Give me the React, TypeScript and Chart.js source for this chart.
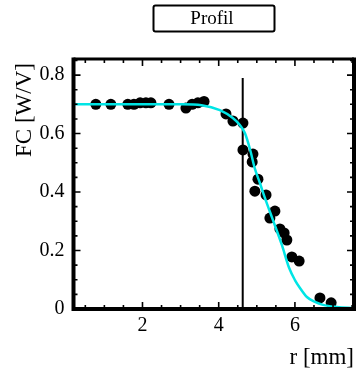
import { useEffect, useRef } from "react";
import { Chart, registerables } from "chart.js";

Chart.register(...registerables);

// Measured points (r in mm, FC in W/V)
const pointR = [0.776, 1.17, 1.615, 1.776, 1.938, 2.09, 2.221, 2.696, 3.14, 3.302, 3.454, 3.615, 4.191, 4.373, 4.636, 4.636, 4.899, 4.879, 5.03, 4.949, 5.242, 5.475, 5.343, 5.606, 5.717, 5.788, 5.919, 6.111, 6.657, 6.95];
const pointV = [0.7, 0.7, 0.7, 0.7, 0.705, 0.705, 0.705, 0.7, 0.687, 0.7, 0.705, 0.71, 0.667, 0.643, 0.636, 0.544, 0.53, 0.503, 0.444, 0.403, 0.39, 0.335, 0.311, 0.274, 0.26, 0.236, 0.178, 0.164, 0.038, 0.021];

// Fitted profile (cyan)
const curveR = [0.19, 1.03, 2.04, 3.05, 3.55, 4.03, 4.37, 4.555, 4.687, 4.818, 4.949, 5.081, 5.212, 5.424, 5.657, 5.849, 6.0, 6.132, 6.314, 6.526, 6.738, 7.102, 7.55];
const curveV = [0.7, 0.7, 0.7, 0.7, 0.697, 0.68, 0.653, 0.629, 0.602, 0.548, 0.48, 0.431, 0.38, 0.304, 0.219, 0.14, 0.099, 0.072, 0.041, 0.024, 0.014, 0.007, 0.003];

// Vertical marker line
const markerR = [4.63, 4.63];
const markerV = [0, 0.79];

const xTickValues = [2, 4, 6];
const yTickValues = [0, 0.2, 0.4, 0.6, 0.8];

const X_MIN = 0.19;
const X_MAX = 7.55;
const Y_MIN = 0;
const Y_MAX = 0.855;

const TITLE = "Profil";
const X_TITLE = "r [mm]";
const Y_TITLE = "FC [W/V]";

const FONT = '"Liberation Serif", "Times New Roman", serif';

const decorPlugin = {
  id: "decor",
  afterDraw(chart: any) {
    const { ctx, chartArea: a } = chart;
    const x = chart.scales.x;
    const y = chart.scales.y;
    ctx.save();
    ctx.strokeStyle = "#000";
    ctx.lineCap = "butt";

    // inward ticks on all four sides
    ctx.lineWidth = 1.6;
    for (let i = 0; i * 0.5 <= X_MAX + 1e-9; i++) {
      const v = i * 0.5;
      if (v < X_MIN) continue;
      const px = x.getPixelForValue(v);
      const major = xTickValues.some((t) => Math.abs(t - v) < 1e-9);
      const len = major ? 7 : 4;
      ctx.beginPath();
      ctx.moveTo(px, a.bottom);
      ctx.lineTo(px, a.bottom - len);
      ctx.moveTo(px, a.top);
      ctx.lineTo(px, a.top + len);
      ctx.stroke();
    }
    for (let i = 0; i * 0.05 <= Y_MAX + 1e-9; i++) {
      const v = i * 0.05;
      const py = y.getPixelForValue(v);
      const major = yTickValues.some((t) => Math.abs(t - v) < 1e-9);
      const len = major ? 7 : 4;
      ctx.beginPath();
      ctx.moveTo(a.left, py);
      ctx.lineTo(a.left + len, py);
      ctx.moveTo(a.right, py);
      ctx.lineTo(a.right - len, py);
      ctx.stroke();
    }

    // frame
    ctx.lineWidth = 4;
    ctx.beginPath();
    ctx.moveTo(a.left, a.top - 1.5);
    ctx.lineTo(a.left, a.bottom);
    ctx.lineTo(a.right, a.bottom);
    ctx.lineTo(a.right, a.top - 1.5);
    ctx.stroke();
    ctx.lineWidth = 3;
    ctx.beginPath();
    ctx.moveTo(a.left, a.top);
    ctx.lineTo(a.right, a.top);
    ctx.stroke();

    // title box
    ctx.lineWidth = 2;
    ctx.beginPath();
    ctx.roundRect(153.5, 5.5, 121, 26, 2);
    ctx.stroke();
    ctx.fillStyle = "#000";
    ctx.font = `19px ${FONT}`;
    ctx.textAlign = "center";
    ctx.textBaseline = "middle";
    ctx.fillText(TITLE, 212, 19);

    // axis titles
    ctx.font = `23px ${FONT}`;
    ctx.textAlign = "right";
    ctx.fillText(X_TITLE, 354, 358);

    ctx.save();
    ctx.translate(25, 110);
    ctx.rotate(-Math.PI / 2);
    ctx.textAlign = "center";
    ctx.fillText(Y_TITLE, 0, 0);
    ctx.restore();

    ctx.restore();
  },
};

export default function App() {
  const ref = useRef<HTMLCanvasElement | null>(null);

  useEffect(() => {
    if (!ref.current) return;
    const chart = new Chart(ref.current, {
      type: "scatter",
      data: {
        datasets: [
          {
            type: "line",
            label: "fit",
            data: curveR.map((r, i) => ({ x: r, y: curveV[i] })),
            borderColor: "#00e5e5",
            borderWidth: 2.5,
            pointRadius: 0,
            fill: false,
            cubicInterpolationMode: "monotone",
            order: 0,
          } as any,
          {
            type: "line",
            label: "marker",
            data: markerR.map((r, i) => ({ x: r, y: markerV[i] })),
            borderColor: "#000",
            borderWidth: 2,
            pointRadius: 0,
            fill: false,
            order: 1,
          } as any,
          {
            label: "data",
            data: pointR.map((r, i) => ({ x: r, y: pointV[i] })),
            backgroundColor: "#000",
            borderColor: "#000",
            pointRadius: 5.5,
            borderWidth: 0,
            order: 2,
          },
        ],
      },
      options: {
        responsive: false,
        animation: false,
        devicePixelRatio: 1,
        layout: { padding: { left: 0.5, right: 6, top: 59, bottom: 35 } },
        plugins: {
          legend: { display: false },
          tooltip: { enabled: false },
          title: { display: false },
        },
        scales: {
          x: {
            type: "linear",
            min: X_MIN,
            max: X_MAX,
            grid: { display: false, drawTicks: false },
            border: { display: false },
            afterFit: (s: any) => {
              s.height = 30;
            },
            afterBuildTicks: (s: any) => {
              s.ticks = xTickValues.map((v) => ({ value: v }));
            },
            ticks: {
              color: "#000",
              font: { family: FONT, size: 20 },
              padding: 5,
              maxRotation: 0,
              autoSkip: false,
              callback: (v: any) => String(v),
            },
          },
          y: {
            type: "linear",
            min: Y_MIN,
            max: Y_MAX,
            grid: { display: false, drawTicks: false },
            border: { display: false },
            afterFit: (s: any) => {
              s.width = 73;
            },
            afterBuildTicks: (s: any) => {
              s.ticks = yTickValues.map((v) => ({ value: v }));
            },
            ticks: {
              color: "#000",
              font: { family: FONT, size: 20 },
              padding: 9,
              autoSkip: false,
              callback: (v: any) => String(Math.round(v * 10) / 10),
            },
          },
        },
      },
      plugins: [decorPlugin],
    });
    return () => chart.destroy();
  }, []);

  return (
    <div style={{ position: "fixed", left: 0, top: 0, width: 360, height: 374, background: "#fff" }}>
      <canvas ref={ref} width={360} height={374} style={{ width: 360, height: 374, display: "block" }} />
    </div>
  );
}
